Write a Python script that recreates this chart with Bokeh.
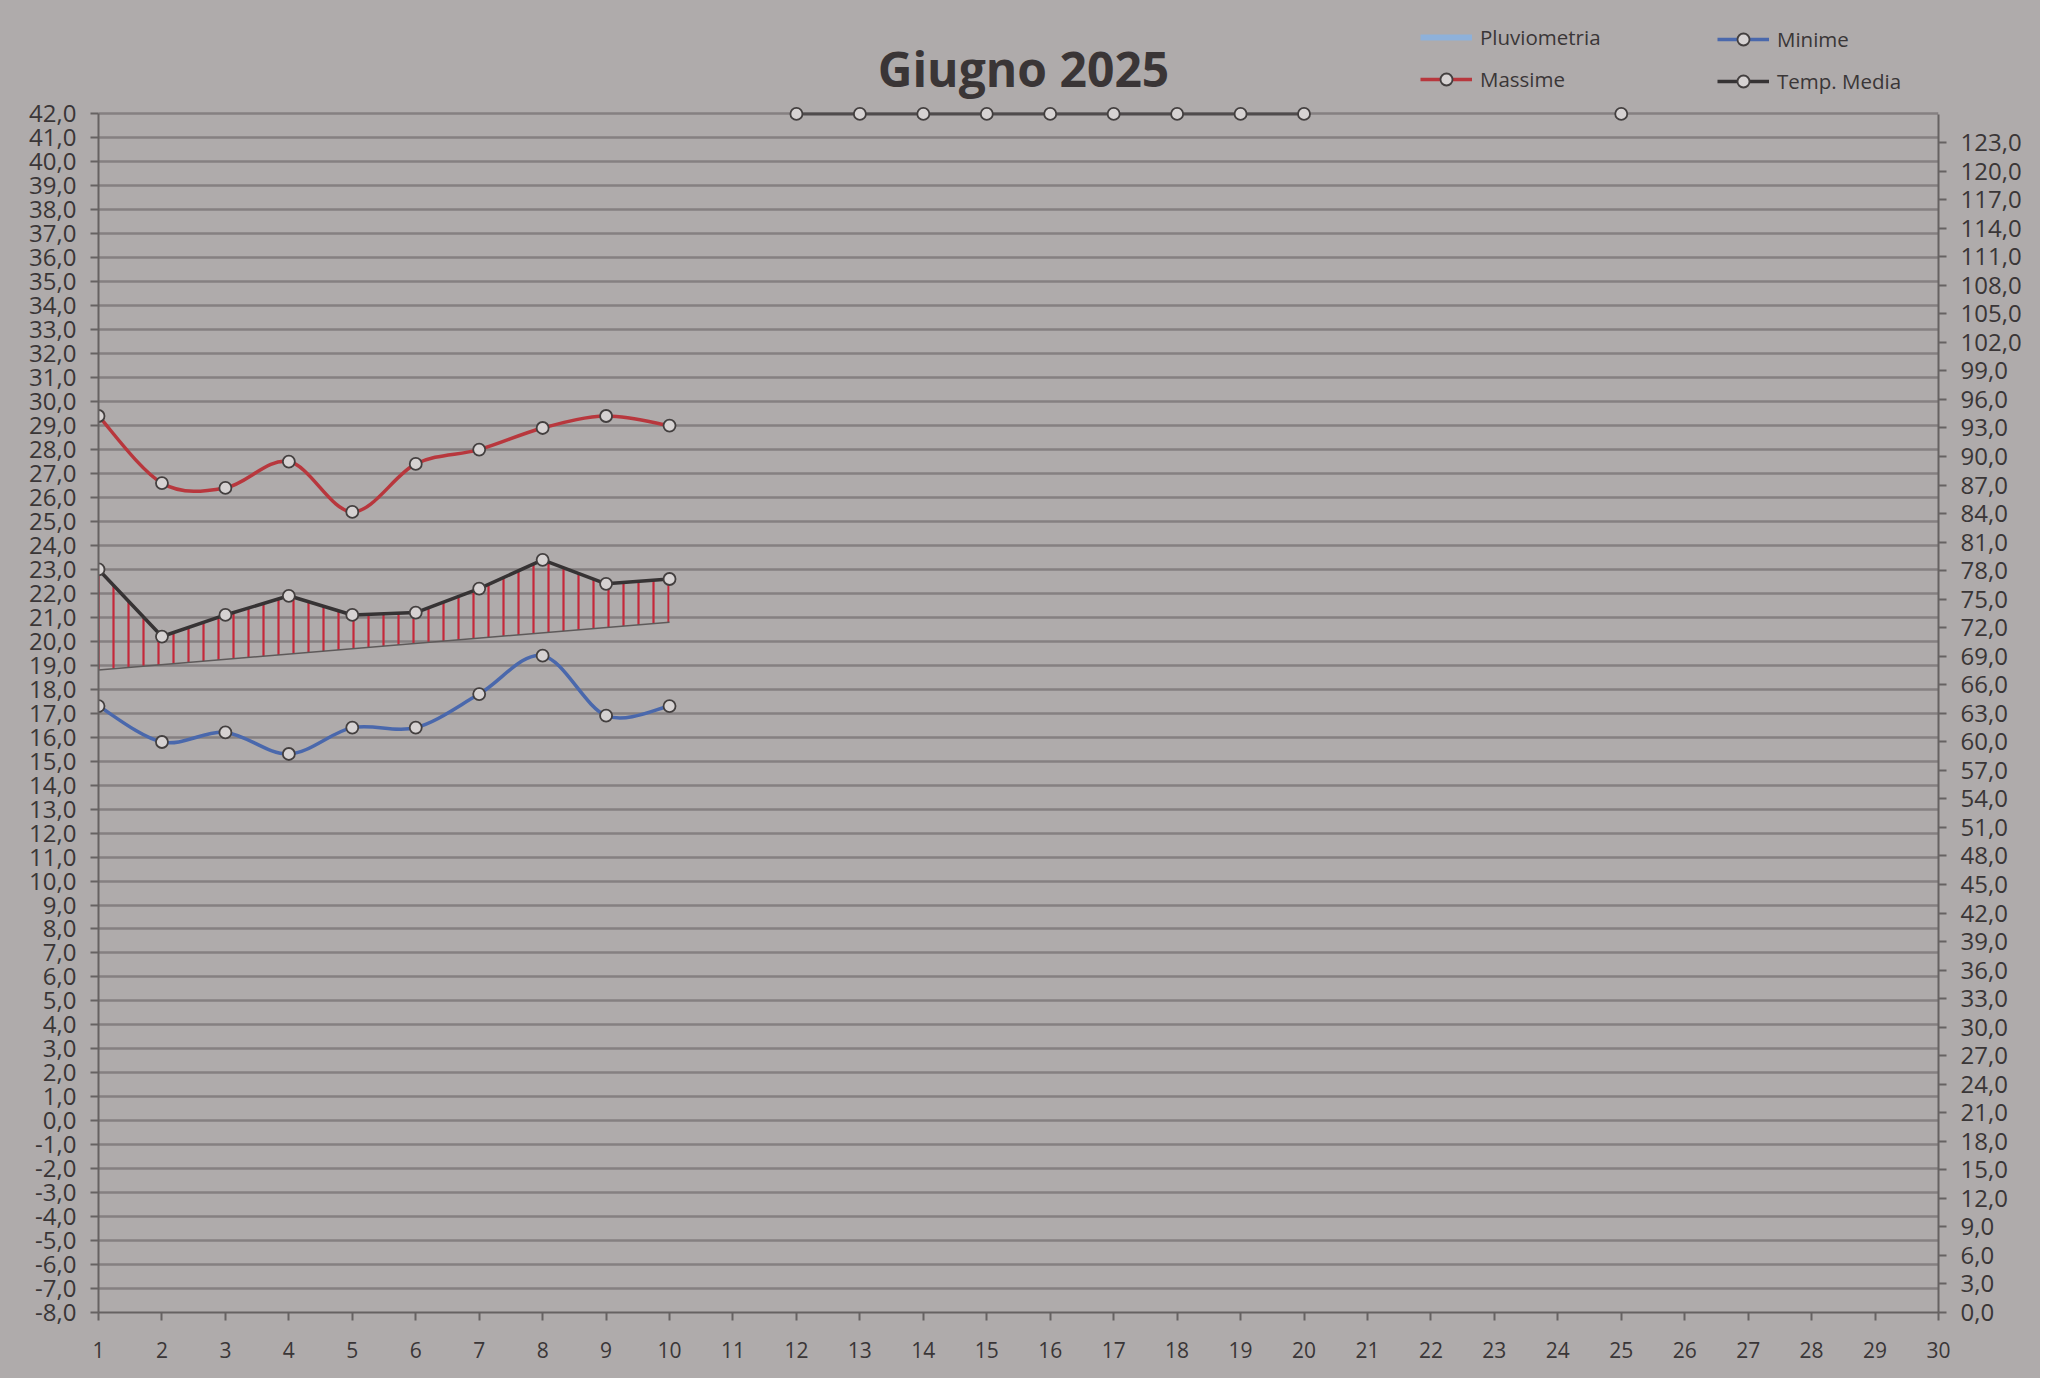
import numpy as np
from bokeh.plotting import figure
from bokeh.models import (Range1d, LinearAxis, FixedTicker, CustomJSTickFormatter,
                          Label, Legend, LegendItem)
from bokeh.embed import file_html
from bokeh.resources import INLINE

# ---------------- data ----------------
data_days = [1, 2, 3, 4, 5, 6, 7, 8, 9, 10]
massime = [29.4, 26.6, 26.4, 27.5, 25.4, 27.4, 28.0, 28.9, 29.4, 29.0]
minime = [17.3, 15.8, 16.2, 15.3, 16.4, 16.4, 17.8, 19.4, 16.9, 17.3]
media = [23.0, 20.2, 21.1, 21.9, 21.1, 21.2, 22.2, 23.4, 22.4, 22.6]
# pencil reference line under the hatched area
normal_days = [1, 10]
normal_vals = [18.8, 20.8]
# empty-day markers drawn at the top edge of the chart
nan = float("nan")
top_days = [12, 13, 14, 15, 16, 17, 18, 19, 20, 21, 22, 23, 24, 25]
top_vals = [42, 42, 42, 42, 42, 42, 42, 42, 42, nan, nan, nan, nan, 42]
x_ticks = list(range(1, 31))
left_ticks = list(range(-8, 43))
right_ticks = list(range(0, 124, 3))

# ---------------- style ----------------
BG = "#afabab"
GRID = "#858081"
AXIS = "#666262"
TXT = "#3a3637"
RED = "#b8373d"
BLUE = "#4a68ac"
BLACK = "#363334"
MFILL = "#d6d2d2"
MLINE = "#433f3f"

# frame spans from near the top of the figure down to the x axis; the axes are
# bounded so the band above 42 holds the title and legend
p = figure(width=2040, height=1378, output_backend="svg", toolbar_location=None, title=None,
           x_range=Range1d(1, 30), y_range=Range1d(-8, 46.40),
           min_border_left=98, min_border_right=102, min_border_top=8, min_border_bottom=66,
           background_fill_alpha=0, border_fill_alpha=0, outline_line_color=None,
           styles={"background-color": BG})
p.extra_y_ranges = {"pluvio": Range1d(0, 137.1)}

p.xgrid.visible = False
p.ygrid.ticker = FixedTicker(ticks=left_ticks)
p.ygrid.grid_line_color = GRID
p.ygrid.grid_line_width = 2.4

fmt = CustomJSTickFormatter(code="return tick.toFixed(1).replace('.', ',');")

def style_axis(ax, size):
    ax.axis_line_color = AXIS
    ax.axis_line_width = 2
    ax.major_tick_line_color = AXIS
    ax.major_tick_line_width = 2
    ax.major_tick_out = 8
    ax.major_tick_in = 0
    ax.minor_tick_line_color = None
    ax.major_label_text_font = "Open Sans"
    ax.major_label_text_font_size = size
    ax.major_label_text_color = TXT
    ax.major_label_standoff = 14

yl = p.yaxis[0]
yl.ticker = FixedTicker(ticks=left_ticks)
yl.formatter = fmt
yl.bounds = (-8, 42)
style_axis(yl, "24px")

xa = p.xaxis[0]
xa.ticker = FixedTicker(ticks=x_ticks)
style_axis(xa, "21px")
xa.major_label_standoff = 21

yr = LinearAxis(y_range_name="pluvio", ticker=FixedTicker(ticks=right_ticks), formatter=fmt,
                bounds=(0, 126))
style_axis(yr, "24px")
yr.major_label_standoff = 14
p.add_layout(yr, "right")

# hatched area between mean temperature and pencil line
hx = data_days + normal_days[::-1]
hy = media + normal_vals[::-1]
p.patch(hx, hy, fill_alpha=0, line_color=None, hatch_pattern="|",
        hatch_color="#c4283a", hatch_scale=15, hatch_weight=2.2)
p.line(normal_days, normal_vals, line_color="#5e5a5a", line_width=1.5)

# smoothed curves (Excel-like)
def bez(xs, ys):
    P = np.column_stack([xs, ys]).astype(float)
    n = len(P)
    out = {k: [] for k in ("x0", "y0", "x1", "y1", "cx0", "cy0", "cx1", "cy1")}
    for i in range(n - 1):
        pm, p0, p1, p2 = P[max(i - 1, 0)], P[i], P[i + 1], P[min(i + 2, n - 1)]
        c0 = p0 + (p1 - pm) / 6.0
        c1 = p1 - (p2 - p0) / 6.0
        out["x0"].append(p0[0]); out["y0"].append(p0[1])
        out["x1"].append(p1[0]); out["y1"].append(p1[1])
        out["cx0"].append(c0[0]); out["cy0"].append(c0[1])
        out["cx1"].append(c1[0]); out["cy1"].append(c1[1])
    return out

p.bezier(**bez(data_days, massime), line_color=RED, line_width=3.5)
p.bezier(**bez(data_days, minime), line_color=BLUE, line_width=3.5)
p.line(data_days, media, line_color=BLACK, line_width=3.5)
p.line(top_days, top_vals, line_color="#4f4b4c", line_width=3)

mk = dict(size=12, fill_color=MFILL, line_color=MLINE, line_width=1.8)
s_max = p.scatter(data_days, massime, **mk)
s_min = p.scatter(data_days, minime, **mk)
s_med = p.scatter(data_days, media, **mk)
p.scatter(top_days, top_vals, **mk)

# legend proxies (a single NaN point each, so nothing shows in the plot)
l_pl = p.line(x=[nan], y=[nan], line_color="#8eb1da", line_width=6)
l_max = p.line(x=[nan], y=[nan], line_color=RED, line_width=3.5)
l_min = p.line(x=[nan], y=[nan], line_color=BLUE, line_width=3.5)
l_med = p.line(x=[nan], y=[nan], line_color=BLACK, line_width=3.5)

leg_style = dict(orientation="vertical", padding=0, margin=0, spacing=12,
                 glyph_width=52, glyph_height=30, label_height=30, label_standoff=8,
                 label_text_font="Open Sans", label_text_font_size="20.5px",
                 label_text_color=TXT, background_fill_alpha=0, border_line_color=None)
legA = Legend(items=[LegendItem(label="Pluviometria", renderers=[l_pl]),
                     LegendItem(label="Massime", renderers=[l_max, s_max])],
              location=(1322, 1218), **leg_style)
legB = Legend(items=[LegendItem(label="Minime", renderers=[l_min, s_min]),
                     LegendItem(label="Temp. Media", renderers=[l_med, s_med])],
              location=(1619, 1216), **leg_style)
p.add_layout(legA)
p.add_layout(legB)

title = Label(x=925, y=1244, x_units="screen", y_units="screen", text="Giugno 2025",
              text_align="center", text_baseline="middle", text_font="Open Sans",
              text_font_style="bold", text_font_size="48px", text_color="#3a3536")
p.add_layout(title)

open("out.html", "w").write(file_html(p, INLINE))
